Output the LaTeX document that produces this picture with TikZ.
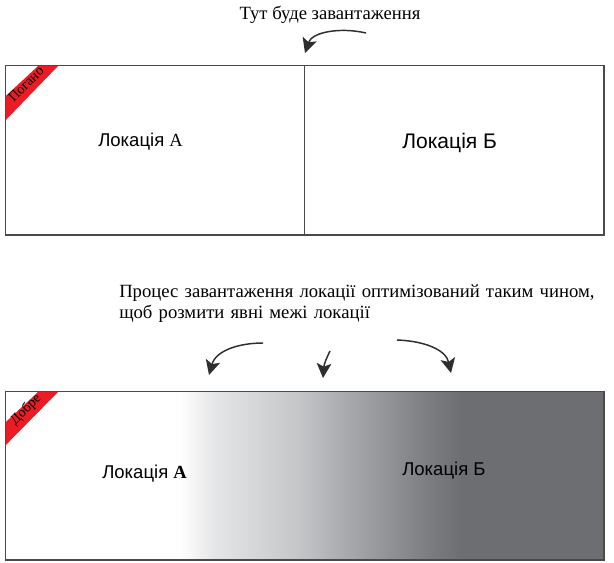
\documentclass[tikz,border=0pt]{standalone}
\usepackage{fontspec}
\setmainfont{Liberation Serif}
\newfontfamily\lsans{Liberation Sans}
\usetikzlibrary{arrows.meta}
\definecolor{frame}{HTML}{4A4A4C}
\definecolor{dark}{HTML}{6D6E71}
\definecolor{ribbon}{HTML}{ED1C24}
\definecolor{arrowc}{HTML}{2E2E30}
\definecolor{g1}{HTML}{E6E7E8}
\definecolor{g2}{HTML}{C4C5C7}
\definecolor{g3}{HTML}{A9AAAD}
\definecolor{g4}{HTML}{7B7C7F}
\tikzset{
  x=0.75pt,y=-0.75pt,
  box/.style={draw=frame,line width=1.2pt},
  ribbonfill/.style={fill=ribbon,draw=none},
  ribbontext/.style={rotate=45,font=\fontsize{10.5}{12}\selectfont,inner sep=0pt},
  serifcap/.style={font=\fontsize{14}{15.75}\selectfont,align=left,inner sep=0pt},
  loc/.style={font=\lsans\fontsize{13.9}{16}\selectfont,inner sep=0pt},
  locbig/.style={font=\lsans\fontsize{15.8}{18}\selectfont,inner sep=0pt},
  swoop/.style={draw=arrowc,line width=1.1pt,-{Stealth[length=11pt,width=11pt,inset=2.5pt]}},
  band/.style={draw=none,shading=axis,shading angle=90}
}
\begin{document}
\begin{tikzpicture}
\useasboundingbox (0,0) rectangle (614,562);
\fill[white] (0,0) rectangle (614,562);
% top panel
\node[serifcap,anchor=base] (topcap) at (330,19) {Тут буде завантаження};
\coordinate (a1s) at (366,33);
\coordinate (a1e) at (305,53);
\draw[swoop] (a1s) .. controls (340,27) and (312,32) .. (a1e);
\draw[box] (5.5,65.5) rectangle (604,235);
\coordinate (divt) at (304.5,65.5);
\coordinate (divb) at (304.5,235);
\draw[box] (divt) -- (divb);
\fill[ribbonfill] (38,66) -- (58,66) -- (5.8,120) -- (5.8,96) -- cycle;
\node[ribbontext] (bad) at (26,84) {Погано};
\node[loc,anchor=base west] (la) at (98,146) {Локація {\rmfamily А}};
\node[locbig,anchor=base west] (lb) at (402,148) {Локація Б};
% bottom panel
\node[serifcap,anchor=north west,text width=490pt] (botcap) at (119,284) {Процес завантаження локації оптимізований таким чином,\\щоб розмити явні межі локації};
\coordinate (a2s) at (263,343);
\coordinate (a2e) at (209,375);
\draw[swoop] (a2s) .. controls (240,343) and (216,350) .. (a2e);
\coordinate (a3s) at (330,351);
\coordinate (a3e) at (323,378);
\draw[swoop] (a3s) .. controls (327,357) and (324,364) .. (a3e);
\coordinate (a4s) at (397,340);
\coordinate (a4e) at (451,373);
\draw[swoop] (a4s) .. controls (425,341) and (446,350) .. (a4e);
% gradient
\fill[white] (5.5,391.5) rectangle (180,560);
\shade[band,left color=white,right color=g1] (180,391.5) rectangle (212,560);
\shade[band,left color=g1,right color=g2] (212,391.5) rectangle (300,560);
\shade[band,left color=g2,right color=g3] (300,391.5) rectangle (345,560);
\shade[band,left color=g3,right color=g4] (345,391.5) rectangle (430,560);
\shade[band,left color=g4,right color=dark] (430,391.5) rectangle (462,560);
\fill[dark] (462,391.5) rectangle (604,560);
\draw[box] (5.5,391.5) rectangle (604,560);
\fill[ribbonfill] (38,392) -- (58,392) -- (5.8,445) -- (5.8,422) -- cycle;
\node[ribbontext] (good) at (26,410) {Добре};
\node[loc,anchor=base west] (lc) at (102,478) {Локація {\rmfamily\bfseries А}};
\node[loc,anchor=base west] (ld) at (402,475) {Локація Б};
\end{tikzpicture}
\end{document}
